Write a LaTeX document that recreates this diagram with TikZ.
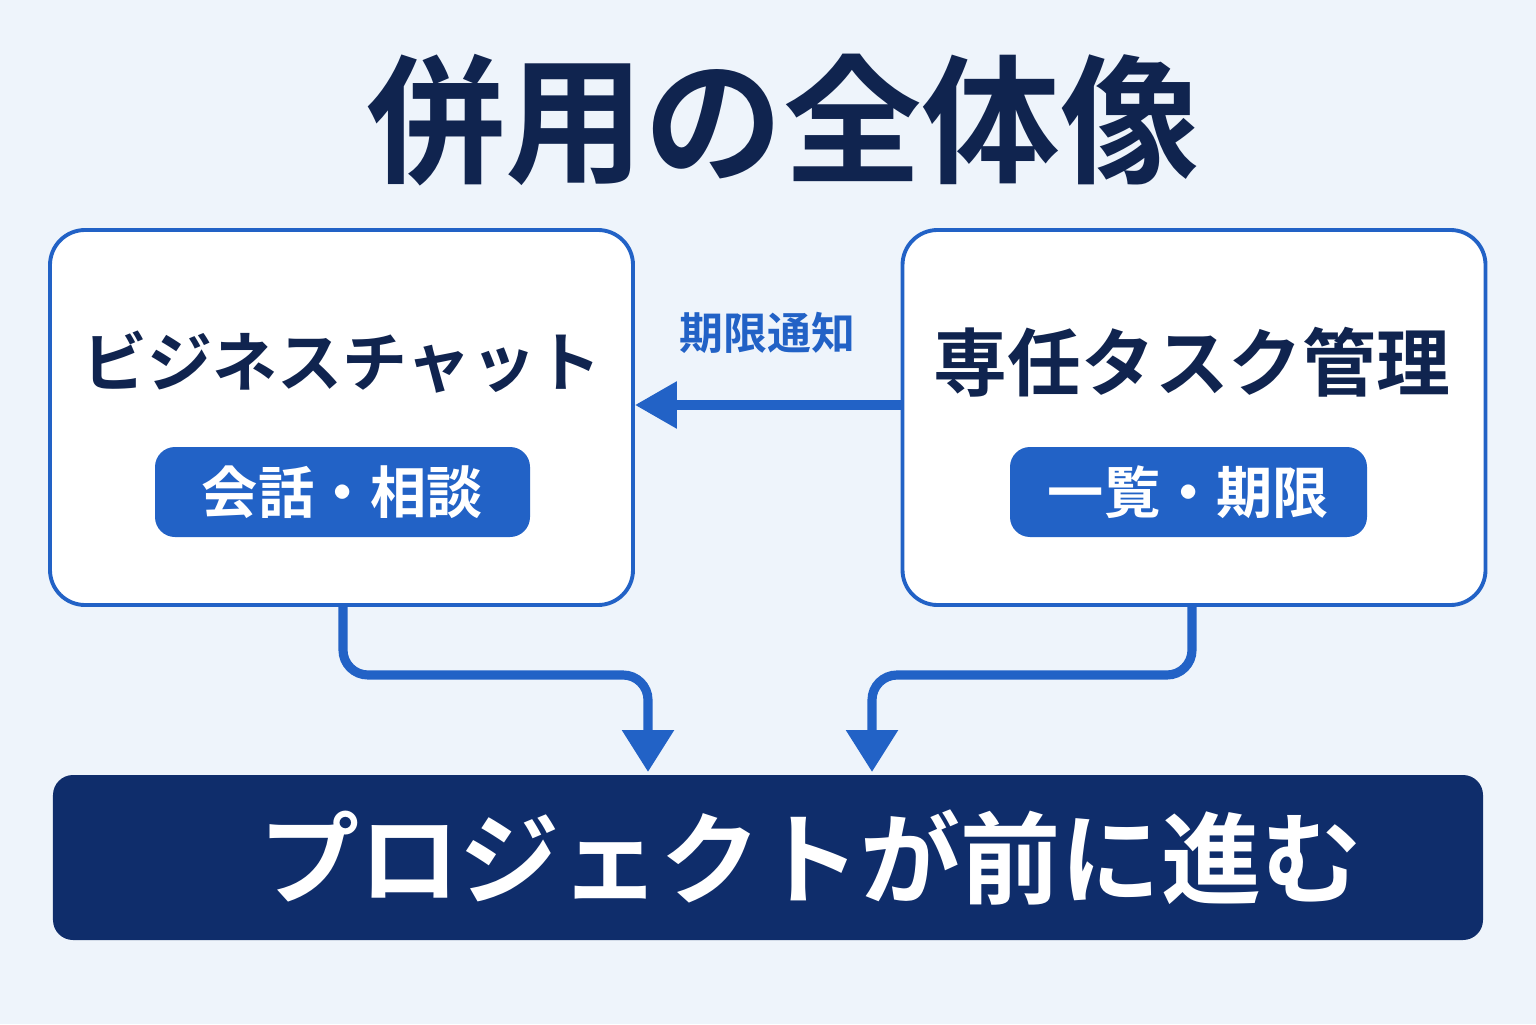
\documentclass[tikz,border=0pt]{standalone}
\usepackage{fontspec}
\newfontfamily\cjk{Noto Sans CJK JP}[BoldFont={Noto Sans CJK JP Bold}]
\usetikzlibrary{positioning, arrows.meta}
\definecolor{bgblue}{HTML}{EEF4FB}
\definecolor{midblue}{HTML}{2262C6}
\definecolor{navy}{HTML}{0F2D6B}
\definecolor{inkblue}{HTML}{10244F}
\begin{document}
\begin{tikzpicture}[
            box/.style={draw=midblue, fill=white, line width=1.1pt, rounded corners=0.35cm, minimum width=5.83cm, minimum height=3.75cm},
            pill/.style={fill=midblue, rounded corners=0.2cm, text=white, font=\cjk\bfseries\fontsize{16}{18}\selectfont},
            head/.style={text=inkblue, font=\cjk\bfseries\fontsize{21}{24}\selectfont},
            flow/.style={midblue, line width=2.6pt, rounded corners=0.25cm, -{Triangle[width=0.5cm, length=0.42cm]}}
        ]
        \fill[bgblue] (0,0) rectangle (15.36,10.24);
        \useasboundingbox (0,0) rectangle (15.36,10.24);

        % Title
        \node[text=inkblue, font=\cjk\bfseries\fontsize{39.5}{44}\selectfont] (title) at (7.83,9.04) {併用の全体像};

        % Two tools
        \node[box] (chat) at (3.415,6.065) {};
        \node[box] (task) at (11.94,6.065) {};
        \node[head, font=\cjk\bfseries\fontsize{18.5}{22}\selectfont] (chatname) at (3.42,6.62) {ビジネスチャット};
        \node[head] (taskname) at (11.92,6.62) {専任タスク管理};
        \node[pill, minimum width=3.75cm, minimum height=0.9cm] (chattag) at (3.425,5.32) {会話・相談};
        \node[pill, minimum width=3.57cm, minimum height=0.9cm] (tasktag) at (11.885,5.32) {一覧・期限};

        % Goal bar
        \node[fill=navy, rounded corners=0.2cm, minimum width=14.3cm, minimum height=1.65cm,
              text=white, font=\cjk\bfseries\fontsize{28.5}{32}\selectfont] (goal) at (7.68,1.665) {\hspace*{0.85cm}プロジェクトが前に進む};

        % Connections
        \coordinate (chatout) at (3.43,4.19);
        \coordinate (taskout) at (11.92,4.19);
        \draw[midblue, line width=2.6pt, -{Triangle[width=0.45cm, length=0.42cm]}] (task.west |- 0,6.19) -- node[above=0.35cm, font=\cjk\bfseries\fontsize{12.5}{14}\selectfont] (notice) {期限通知} (chat.east |- 0,6.19);
        \draw[flow] (chatout) -- (3.43,3.49) -- (6.48,3.49) -- (6.48,2.52);
        \draw[flow] (taskout) -- (11.92,3.49) -- (8.72,3.49) -- (8.72,2.52);
    \end{tikzpicture}
\end{document}
